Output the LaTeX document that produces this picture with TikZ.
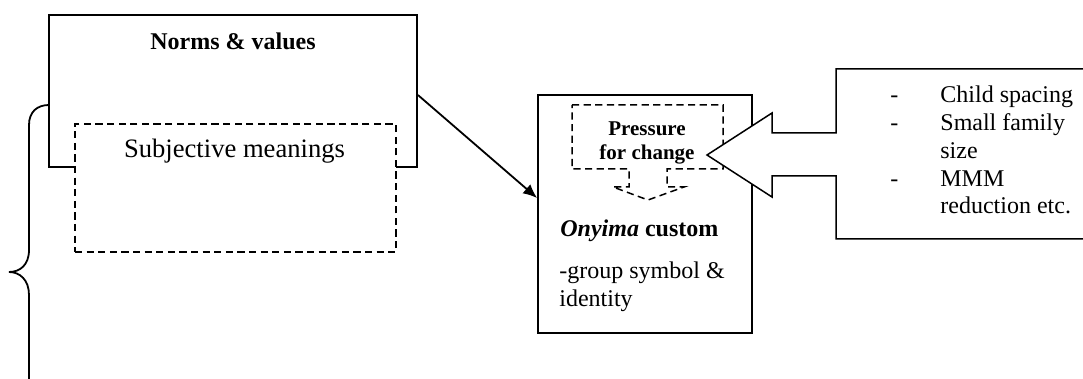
\documentclass[tikz,border=0pt]{standalone}
\usepackage{fontspec}
\setmainfont{Liberation Serif}
\usetikzlibrary{arrows.meta,calc}
\begin{document}
\begin{tikzpicture}[x=0.5pt,y=-0.5pt,
  solidbox/.style={draw, line width=0.9pt, fill=white, inner sep=0pt},
  dashbox/.style={draw, line width=0.75pt, dash pattern=on 3.6pt off 2.2pt, fill=white, inner sep=0pt},
  txt/.style={inner sep=0pt, anchor=base west, font=\fontsize{12}{13.9}\selectfont},
  ctxt/.style={inner sep=0pt, anchor=base},
  conn/.style={line width=0.9pt, -{Latex[length=7pt,width=6pt]}}]
\useasboundingbox (0,0) rectangle (1083,379);

% brace
\draw[line width=0.9pt] (49,105) .. controls (37,105) and (29,112) .. (29,125)
  -- (29,250) .. controls (29,265) and (20,272) .. (9,272)
  .. controls (20,272) and (29,280) .. (29,295) -- (29,390);

% Norms & values
\node[solidbox, minimum width=184pt, minimum height=76pt] (norms) at (233,91) {};
\node[ctxt, font=\bfseries\fontsize{12}{14}\selectfont] (normslbl) at (233,50) {Norms \& values};

% Subjective meanings
\node[dashbox, minimum width=160.5pt, minimum height=64pt] (subj) at (235.5,188) {};
\node[ctxt, font=\fontsize{13.3}{15}\selectfont] (subjlbl) at (234.5,158) {Subjective meanings};

% Onyima custom box
\node[solidbox, minimum width=107pt, minimum height=119pt] (onyima) at (645,214) {};
\node[txt] (ony1) at (560,236.7) {\textbf{\textit{Onyima} custom}};
\node[txt] (ony2) at (559,279) {-group symbol \&};
\node[txt] (ony3) at (559,307) {identity};

% Pressure for change (dashed down-arrow callout)
\draw[dashbox] (572,105) -- (723,105) -- (723,169) -- (667,169) -- (667,187) -- (684,187)
  -- (648,200) -- (613,187) -- (629,187) -- (629,169) -- (572,169) -- cycle;
\node[ctxt, font=\bfseries\fontsize{10.5}{12}\selectfont] (press1) at (647,136) {Pressure};
\node[ctxt, font=\bfseries\fontsize{10.5}{12}\selectfont] (press2) at (647,160) {for change};

% Left-arrow callout with list
\draw[line width=0.75pt, fill=white] (836,69) -- (1095,69) -- (1095,239) -- (836,239)
  -- (836,176) -- (772,176) -- (772,197) -- (707,155) -- (772,113) -- (772,133)
  -- (836,133) -- cycle;
\node[txt] (d1) at (890,102.7) {-};
\node[txt] (d2) at (890,130.5) {-};
\node[txt] (d3) at (890,186.1) {-};
\node[txt] (l1) at (940,102.7) {Child spacing};
\node[txt] (l2) at (940,130.5) {Small family};
\node[txt] (l3) at (940,158.3) {size};
\node[txt] (l4) at (940,186.1) {MMM};
\node[txt] (l5) at (940,213.9) {reduction etc.};

% connector
\draw[conn] ([yshift=-2pt]norms.east) -- ([yshift=8pt]onyima.west);
\end{tikzpicture}
\end{document}
